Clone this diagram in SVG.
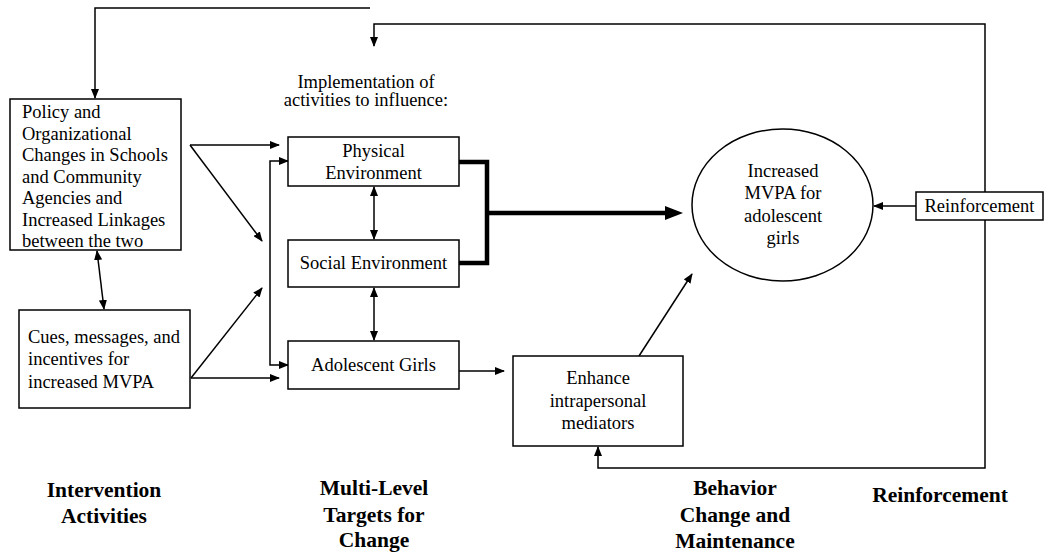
<svg xmlns="http://www.w3.org/2000/svg" width="1046" height="553" viewBox="0 0 1046 553">
<defs>
<style>
.box{fill:#fff;stroke:#000;stroke-width:1.5}
.t{font-family:"Liberation Serif","Times New Roman",serif;font-size:18.5px;fill:#000}
.c{text-anchor:middle}
.b{font-family:"Liberation Serif","Times New Roman",serif;font-weight:bold;font-size:21.5px;text-anchor:middle;fill:#000}
.ln{fill:none;stroke:#000;stroke-width:1.5}
.thick{fill:none;stroke:#000;stroke-width:4.5}
</style>
<marker id="a" markerUnits="userSpaceOnUse" markerWidth="10" markerHeight="8" refX="9" refY="4" orient="auto-start-reverse"><path d="M0,0 L10,4 L0,8 z" fill="#000"/></marker>
<marker id="big" markerUnits="userSpaceOnUse" markerWidth="18" markerHeight="14" refX="7" refY="7" orient="auto"><path d="M0,0 L18,7 L0,14 z" fill="#000"/></marker>
</defs>
<rect width="1046" height="553" fill="#fff"/>
<g id="connectors">
<polyline class="ln" points="370,8 95,8 95,98" marker-end="url(#a)"/>
<path class="ln" d="M374,46 L374,24 L985,24 L985,468 L598,468 L598,447" marker-start="url(#a)" marker-end="url(#a)"/>
<line class="ln" x1="190" y1="145" x2="279" y2="145" marker-end="url(#a)"/>
<line class="ln" x1="190" y1="145" x2="262" y2="241" marker-end="url(#a)"/>
<line class="ln" x1="191" y1="378" x2="262" y2="288" marker-end="url(#a)"/>
<line class="ln" x1="191" y1="378" x2="279" y2="378" marker-end="url(#a)"/>
<path class="ln" d="M288,161 L270,161 L270,365 L288,365" marker-start="url(#a)" marker-end="url(#a)"/>
<line class="ln" x1="97" y1="251" x2="104" y2="309" marker-start="url(#a)" marker-end="url(#a)"/>
<line class="ln" x1="374" y1="187" x2="374" y2="239" marker-start="url(#a)" marker-end="url(#a)"/>
<line class="ln" x1="374" y1="288" x2="374" y2="340" marker-start="url(#a)" marker-end="url(#a)"/>
<path class="thick" d="M459,162 L487,162 L487,263 L459,263"/>
<line class="thick" x1="487" y1="213" x2="672" y2="213" marker-end="url(#big)"/>
<line class="ln" x1="459" y1="371" x2="504" y2="371" marker-end="url(#a)"/>
<line class="ln" x1="639" y1="356" x2="692" y2="274" marker-end="url(#a)"/>
<line class="ln" x1="916" y1="206" x2="874" y2="206" marker-end="url(#a)"/>
</g>
<g id="implementation-label">
<text class="t c" x="366" y="88">Implementation of</text>
<text class="t c" x="366" y="106">activities to influence:</text>
</g>
<g id="policy">
<rect class="box" x="10" y="99" width="171" height="151"/>
<text class="t" x="22" y="118">Policy and</text>
<text class="t" x="22" y="139.5">Organizational</text>
<text class="t" x="22" y="161">Changes in Schools</text>
<text class="t" x="22" y="182.5">and Community</text>
<text class="t" x="22" y="204">Agencies and</text>
<text class="t" x="22" y="225.5">Increased Linkages</text>
<text class="t" x="22" y="247">between the two</text>
</g>
<g id="cues">
<rect class="box" x="19" y="310" width="171" height="98"/>
<text class="t" x="28" y="343">Cues, messages, and</text>
<text class="t" x="28" y="365">incentives for</text>
<text class="t" x="28" y="388">increased MVPA</text>
</g>
<g id="physical">
<rect class="box" x="288" y="137" width="171" height="49"/>
<text class="t c" x="373.5" y="157">Physical</text>
<text class="t c" x="373.5" y="179">Environment</text>
</g>
<g id="social">
<rect class="box" x="288" y="240" width="171" height="47"/>
<text class="t c" x="373.5" y="269">Social Environment</text>
</g>
<g id="adolescent">
<rect class="box" x="288" y="341" width="171" height="48"/>
<text class="t c" x="373.5" y="371">Adolescent Girls</text>
</g>
<g id="outcome">
<ellipse class="box" cx="782.5" cy="205" rx="90.5" ry="76"/>
<text class="t c" x="783" y="177">Increased</text>
<text class="t c" x="783" y="199">MVPA for</text>
<text class="t c" x="783" y="222">adolescent</text>
<text class="t c" x="783" y="244">girls</text>
</g>
<g id="enhance">
<rect class="box" x="513" y="356" width="170" height="90"/>
<text class="t c" x="598" y="384">Enhance</text>
<text class="t c" x="598" y="407">intrapersonal</text>
<text class="t c" x="598" y="429">mediators</text>
</g>
<g id="reinforcement">
<rect class="box" x="916" y="192" width="127" height="28"/>
<text class="t c" x="979.5" y="212">Reinforcement</text>
</g>
<g id="column-labels">
<text class="b" x="104" y="497">Intervention</text>
<text class="b" x="104" y="523">Activities</text>
<text class="b" x="374" y="495">Multi-Level</text>
<text class="b" x="374" y="522">Targets for</text>
<text class="b" x="374" y="547">Change</text>
<text class="b" x="735" y="495">Behavior</text>
<text class="b" x="735" y="522">Change and</text>
<text class="b" x="735" y="548">Maintenance</text>
<text class="b" x="940" y="502">Reinforcement</text>
</g>
</svg>
